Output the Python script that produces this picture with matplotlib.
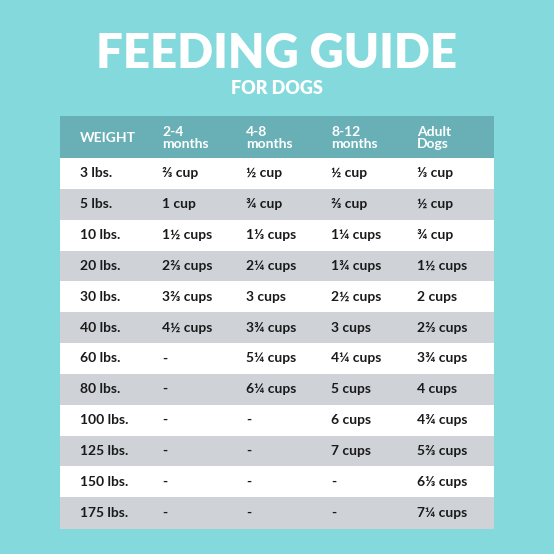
import matplotlib
matplotlib.use("Agg")
import matplotlib.pyplot as plt
from matplotlib.patches import Rectangle

plt.rcParams['font.family'] = ['Lato', 'DejaVu Sans']

title = "FEEDING GUIDE"
subtitle = "FOR DOGS"
headers = ["WEIGHT", "2-4\nmonths", "4-8\nmonths", "8-12\nmonths", "Adult\nDogs"]
weights = ["3 lbs.", "5 lbs.", "10 lbs.", "20 lbs.", "30 lbs.", "40 lbs.", "60 lbs.",
           "80 lbs.", "100 lbs.", "125 lbs.", "150 lbs.", "175 lbs."]
m2_4 = ["⅔ cup", "1 cup", "1½ cups", "2⅔ cups", "3⅔ cups", "4½ cups", "-", "-", "-", "-", "-", "-"]
m4_8 = ["½ cup", "¾ cup", "1⅓ cups", "2¼ cups", "3 cups", "3¾ cups", "5¼ cups", "6¼ cups", "-", "-", "-", "-"]
m8_12 = ["½ cup", "⅔ cup", "1¼ cups", "1¾ cups", "2½ cups", "3 cups", "4¼ cups", "5 cups", "6 cups", "7 cups", "-", "-"]
adult = ["⅓ cup", "½ cup", "¾ cup", "1½ cups", "2 cups", "2⅔ cups", "3¾ cups", "4 cups", "4¾ cups", "5⅔ cups", "6⅓ cups", "7¼ cups"]
columns = [weights, m2_4, m4_8, m8_12, adult]

fig = plt.figure(figsize=(5.54, 5.54), dpi=100)
fig.patch.set_facecolor("#84d9dd")
ax = fig.add_axes([0, 0, 1, 1])
ax.set_xlim(0, 554); ax.set_ylim(554, 0); ax.axis("off")

ax.text(277, 54, title, ha="center", va="center", color="white", fontsize=34, fontweight="heavy")
ax.text(277, 89, subtitle, ha="center", va="center", color="white", fontsize=13, fontweight="heavy")

x0, x1 = 60, 494
hy0, hy1 = 116, 158
rowh = (528 - 158) / len(weights)
colx = [80, 162, 246, 331, 417]

ax.add_patch(Rectangle((x0, hy0), x1 - x0, hy1 - hy0, color="#68b0b6", lw=0))
for cx, h in zip(colx, headers):
    ax.text(cx, (hy0 + hy1) / 2 + 1, h, ha="left", va="center", color="white",
            fontsize=10, fontweight="bold", linespacing=0.95)

for i in range(len(weights)):
    y = hy1 + i * rowh
    ax.add_patch(Rectangle((x0, y), x1 - x0, rowh + 0.5, color="white" if i % 2 == 0 else "#cfd3d8", lw=0))
    for cx, col in zip(colx, columns):
        ax.text(cx, y + rowh / 2, col[i], ha="left", va="center", color="#1a1a1a",
                fontsize=10, fontweight="bold")

fig.savefig("out.png", dpi=100, facecolor=fig.get_facecolor())
